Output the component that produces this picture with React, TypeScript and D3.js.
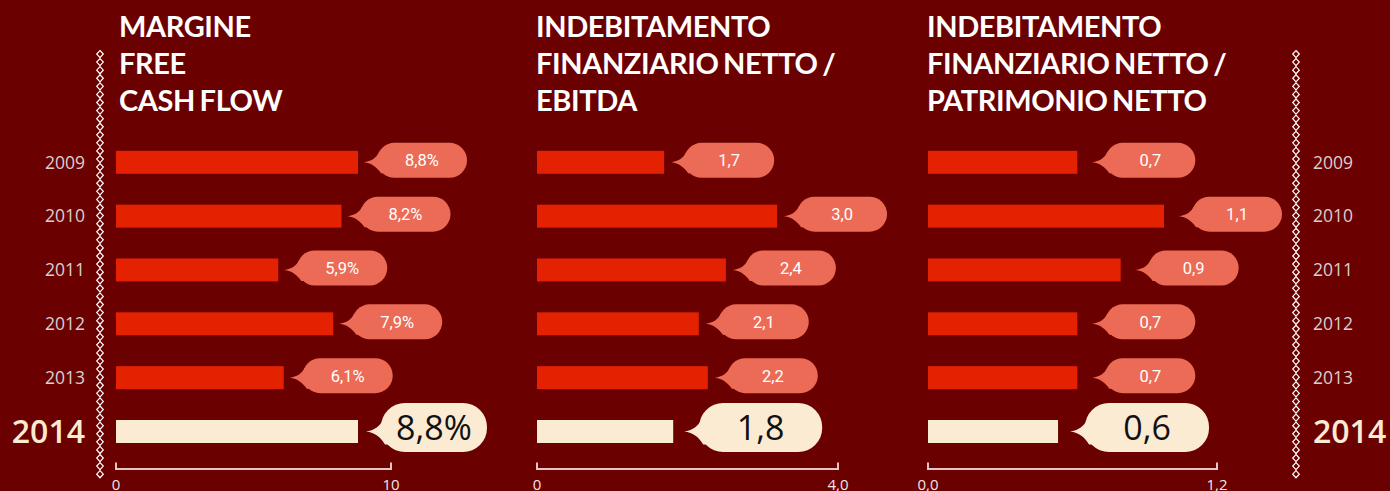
import React from "react";
import * as d3 from "d3";

const years = ["2009", "2010", "2011", "2012", "2013", "2014"];

const fcfValues = [8.8, 8.2, 5.9, 7.9, 6.1, 8.8];
const fcfLabels = ["8,8%", "8,2%", "5,9%", "7,9%", "6,1%", "8,8%"];

const debtEbitdaValues = [1.69, 3.19, 2.51, 2.15, 2.27, 1.81];
const debtEbitdaLabels = ["1,7", "3,0", "2,4", "2,1", "2,2", "1,8"];

const debtEquityValues = [0.62, 0.98, 0.8, 0.62, 0.62, 0.54];
const debtEquityLabels = ["0,7", "1,1", "0,9", "0,7", "0,7", "0,6"];

const titles = [
  ["MARGINE", "FREE", "CASH FLOW"],
  ["INDEBITAMENTO", "FINANZIARIO NETTO /", "EBITDA"],
  ["INDEBITAMENTO", "FINANZIARIO NETTO /", "PATRIMONIO NETTO"],
];

const axisDomains = [
  [0, 10],
  [0, 4],
  [0, 1.2],
];
const axisTickLabels = [
  ["0", "10"],
  ["0", "4,0"],
  ["0,0", "1,2"],
];

const W = 1390;
const H = 491;
const BG = "#6b0000";
const RED = "#e42100";
const SALMON = "#ec6b56";
const CREAM = "#fcebd3";

const panels = [
  { x0: 116, x1: 391, titleX: 119, values: fcfValues, labels: fcfLabels, gap: 6, gapBig: 8, bigW: 106 },
  { x0: 537, x1: 838, titleX: 536, values: debtEbitdaValues, labels: debtEbitdaLabels, gap: 7, gapBig: 11, bigW: 123 },
  { x0: 928, x1: 1217, titleX: 927, values: debtEquityValues, labels: debtEquityLabels, gap: 15, gapBig: 12, bigW: 124 },
];

const yScale = d3.scalePoint<string>().domain(years).range([162.3, 431.5]);
const BAR_H = 23;

function smallBubble(tx: number, ty: number) {
  const bx = tx + 13;
  const bw = 90;
  const bh = 35;
  const cy = ty - 2;
  const by = cy - bh / 2;
  const r = bh / 2;
  const p = d3.path();
  p.moveTo(bx + r, by);
  p.lineTo(bx + bw - r, by);
  p.arc(bx + bw - r, cy, r, -Math.PI / 2, Math.PI / 2);
  p.lineTo(bx + r, by + bh);
  p.arc(bx + r, cy, r, Math.PI / 2, (3 * Math.PI) / 2);
  p.closePath();
  const t = d3.path();
  t.moveTo(tx, ty);
  t.bezierCurveTo(tx + 7, ty - 1, tx + 12, ty - 4, tx + 15, ty - 10);
  t.lineTo(tx + 22, ty - 10);
  t.lineTo(tx + 22, ty + 11);
  t.lineTo(tx + 17, ty + 11);
  t.bezierCurveTo(tx + 13, ty + 5, tx + 8, ty + 1, tx, ty);
  t.closePath();
  return { body: p.toString(), tail: t.toString(), cx: bx + bw / 2, cy };
}

function bigBubble(tx: number, ty: number, bw: number) {
  const bx = tx + 15;
  const bh = 49;
  const cy = ty - 4;
  const by = cy - bh / 2;
  const r = 24;
  const p = d3.path();
  p.moveTo(bx + r, by);
  p.lineTo(bx + bw - r, by);
  p.arc(bx + bw - r, by + r, r, -Math.PI / 2, 0);
  p.lineTo(bx + bw, by + bh - r);
  p.arc(bx + bw - r, by + bh - r, r, 0, Math.PI / 2);
  p.lineTo(bx + r, by + bh);
  p.arc(bx + r, by + bh - r, r, Math.PI / 2, Math.PI);
  p.lineTo(bx, by + r);
  p.arc(bx + r, by + r, r, Math.PI, (3 * Math.PI) / 2);
  p.closePath();
  const t = d3.path();
  t.moveTo(tx, ty);
  t.bezierCurveTo(tx + 8, ty - 1, tx + 14, ty - 5, tx + 17, ty - 12);
  t.lineTo(tx + 26, ty - 12);
  t.lineTo(tx + 26, ty + 13);
  t.lineTo(tx + 19, ty + 13);
  t.bezierCurveTo(tx + 15, ty + 6, tx + 9, ty + 1, tx, ty);
  t.closePath();
  return { body: p.toString(), tail: t.toString(), cx: bx + bw / 2, cy };
}

function DiamondChain({ cx }: { cx: number }) {
  const n = 53;
  const top = 50;
  const step = 8.08;
  return (
    <g>
      {d3.range(n).map((i) => {
        const y = top + i * step;
        return (
          <path
            key={i}
            d={`M${cx},${y + 0.5} L${cx + 3.3},${y + 4} L${cx},${y + 7.6} L${cx - 3.3},${y + 4} Z`}
            fill="none"
            stroke="#ffffff"
            strokeWidth={1.2}
          />
        );
      })}
    </g>
  );
}

export default function App() {
  return (
    <svg
      width={W}
      height={H}
      style={{ position: "absolute", left: 0, top: 0, display: "block" }}
    >
      <rect x={0} y={0} width={W} height={H} fill={BG} />
      <DiamondChain cx={100} />
      <DiamondChain cx={1296} />

      {years.map((yr, i) => {
        const big = i === years.length - 1;
        const y = yScale(yr) as number;
        const common = {
          fontFamily: "'Open Sans', sans-serif",
          fontWeight: big ? 600 : 400,
          fontSize: big ? 32 : 17.5,
          fill: big ? CREAM : "#d9cfcf",
        };
        return (
          <g key={yr}>
            <text x={85} y={y} dy="0.36em" textAnchor="end" {...common}>
              {yr}
            </text>
            <text x={1313} y={y} dy="0.36em" textAnchor="start" {...common}>
              {yr}
            </text>
          </g>
        );
      })}

      {panels.map((pn, pi) => {
        const x = d3.scaleLinear().domain(axisDomains[pi]).range([pn.x0, pn.x1]);
        const ticks = axisDomains[pi];
        return (
          <g key={pi}>
            {titles[pi].map((line, li) => (
              <text
                key={li}
                x={pn.titleX}
                y={37 + li * 37}
                fontFamily="Lato, sans-serif"
                fontWeight={700}
                fontSize={29}
                letterSpacing={-0.4}
                wordSpacing={-2}
                fill="#ffffff"
              >
                {line}
              </text>
            ))}
            {years.map((yr, i) => {
              const big = i === years.length - 1;
              const cy = yScale(yr) as number;
              const xe = x(pn.values[i]);
              const b = big
                ? bigBubble(xe + pn.gapBig, cy, pn.bigW)
                : smallBubble(xe + pn.gap, cy);
              return (
                <g key={yr}>
                  <rect
                    x={x(0)}
                    y={cy - BAR_H / 2}
                    width={xe - x(0)}
                    height={BAR_H}
                    fill={big ? CREAM : RED}
                  />
                  <path d={b.tail} fill={big ? CREAM : SALMON} />
                  <path d={b.body} fill={big ? CREAM : SALMON} />
                  <text
                    x={b.cx}
                    y={b.cy}
                    dy="0.36em"
                    textAnchor="middle"
                    fontFamily={big ? "'Open Sans', sans-serif" : "Roboto, sans-serif"}
                    fontSize={big ? 34 : 16.5}
                    fill={big ? "#111111" : "#ffffff"}
                  >
                    {pn.labels[i]}
                  </text>
                </g>
              );
            })}
            <path
              d={`M${x(ticks[0])},462.5 V469 H${x(ticks[1])} V462.5`}
              fill="none"
              stroke="#e3c7c7"
              strokeWidth={2}
            />
            {ticks.map((t, ti) => (
              <text
                key={ti}
                x={x(t)}
                y={489.5}
                textAnchor="middle"
                fontFamily="'Open Sans', sans-serif"
                fontSize={15}
                fill="#f3e6e6"
              >
                {axisTickLabels[pi][ti]}
              </text>
            ))}
          </g>
        );
      })}
    </svg>
  );
}
